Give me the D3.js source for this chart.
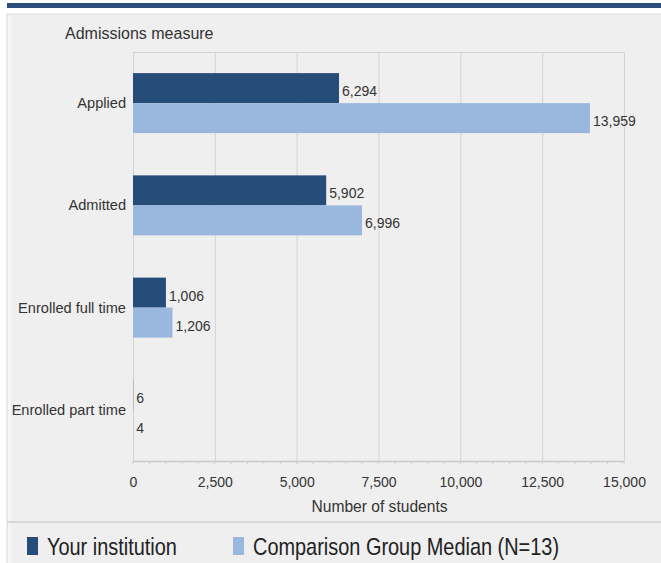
<!DOCTYPE html>
<html><head><meta charset="utf-8">
<script src="https://cdn.jsdelivr.net/npm/d3@7"></script>
<style>body{margin:0;background:#fff;}svg{display:block;font-family:"Liberation Sans",Arial,sans-serif;}</style>
</head><body>
<svg id="c" width="661" height="563"></svg>
<script>
const categories = ["Applied", "Admitted", "Enrolled full time", "Enrolled part time"];
const yourInstitution = [6294, 5902, 1006, 6];
const comparisonMedian = [13959, 6996, 1206, 4];
const seriesNames = ["Your institution", "Comparison Group Median (N=13)"];
const xTicks = [0, 2500, 5000, 7500, 10000, 12500, 15000];

const colors = ["#264d7a", "#9ab8de"];
const svg = d3.select("#c");

// top band and panel
svg.append("rect").attr("x", 7).attr("y", 3).attr("width", 654).attr("height", 5).attr("fill", "#2a4f7c");
svg.append("rect").attr("x", 7).attr("y", 14).attr("width", 660).attr("height", 560).attr("fill", "#efefef").attr("stroke", "#dcdcdc");
svg.append("rect").attr("x", 8).attr("y", 15).attr("width", 3).attr("height", 548).attr("fill", "#f6f6f6");
svg.append("line").attr("x1", 7).attr("x2", 661).attr("y1", 522).attr("y2", 522).attr("stroke", "#cfcfcf").attr("stroke-width", 1.5);

const m = {left: 133, right: 624, top: 52, bottom: 461};
const x = d3.scaleLinear().domain([0, 15000]).range([m.left, m.right]);
const y = d3.scaleBand().domain(categories).range([m.top, m.bottom]).paddingInner(0).paddingOuter(0);
const inner = d3.scaleBand().domain([0, 1]).range([-30, 30]);

// grid
svg.append("g").selectAll("line").data(xTicks).join("line")
  .attr("x1", d => x(d) + 0.5).attr("x2", d => x(d) + 0.5)
  .attr("y1", m.top).attr("y2", m.bottom)
  .attr("stroke", "#d3d3d3");
svg.append("line").attr("x1", m.left).attr("x2", m.right).attr("y1", m.top + 0.5).attr("y2", m.top + 0.5).attr("stroke", "#d3d3d3");

// axis
const axis = d3.axisBottom(x).tickValues(xTicks).tickFormat(d3.format(",")).tickSize(0).tickPadding(16);
const ag = svg.append("g").attr("transform", `translate(0,${m.bottom})`).call(axis);
ag.select(".domain").attr("stroke", "#c8c8c8").attr("stroke-width", 1.5);
ag.selectAll("text").attr("font-size", 14).attr("fill", "#333").attr("font-family", "Liberation Sans, Arial, sans-serif");
// minor ticks
svg.append("g").selectAll("line").data(d3.range(0, 15001, 500)).join("line")
  .attr("x1", d => x(d)).attr("x2", d => x(d))
  .attr("y1", m.bottom).attr("y2", m.bottom + 3).attr("stroke", "#cfcfcf");

svg.append("text").attr("x", (m.left + m.right) / 2 + 1).attr("y", 512).attr("text-anchor", "middle")
  .attr("font-size", 15.6).attr("fill", "#333").text("Number of students");
svg.append("text").attr("x", 65).attr("y", 39).attr("font-size", 16).attr("fill", "#333").text("Admissions measure");

// category labels
svg.append("g").selectAll("text").data(categories).join("text")
  .attr("x", 126).attr("y", d => y(d) + y.bandwidth() / 2 + 5)
  .attr("text-anchor", "end").attr("font-size", 14.6).attr("fill", "#333").text(d => d);

// bars
const series = [yourInstitution, comparisonMedian];
series.forEach((vals, si) => {
  const g = svg.append("g");
  g.selectAll("rect").data(categories).join("rect")
    .attr("x", x(0)).attr("y", (d) => y(d) + y.bandwidth() / 2 + inner(si))
    .attr("width", (d, i) => x(vals[i]) - x(0)).attr("height", inner.bandwidth())
    .attr("fill", colors[si]);
  g.selectAll("text").data(categories).join("text")
    .attr("x", (d, i) => x(vals[i]) + 3)
    .attr("y", d => y(d) + y.bandwidth() / 2 + inner(si) + inner.bandwidth() / 2 + 8)
    .attr("font-size", 14).attr("fill", "#333")
    .text((d, i) => d3.format(",")(vals[i]));
});

// legend (condensed type)
const lx = [27, 233];
seriesNames.forEach((n, i) => {
  svg.append("rect").attr("x", lx[i]).attr("y", 537).attr("width", 11).attr("height", 18).attr("fill", colors[i]);
  svg.append("text").attr("transform", `translate(${lx[i] + 20},555) scale(0.83,1)`)
    .attr("font-size", 24).attr("fill", "#222").text(n);
});
</script>
</body></html>
